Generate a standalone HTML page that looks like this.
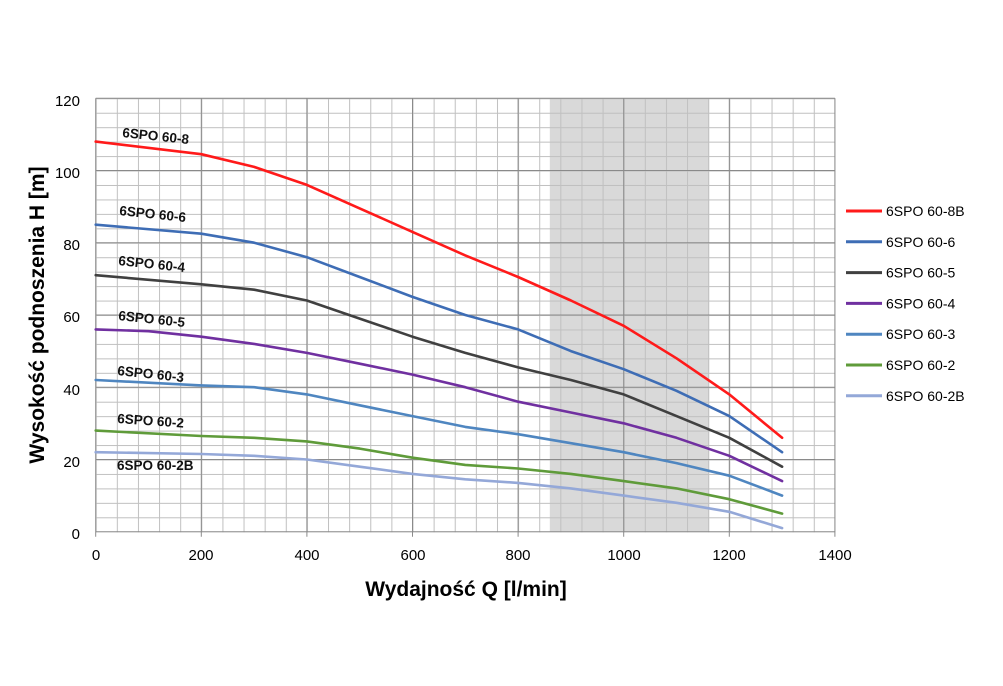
<!DOCTYPE html>
<html><head><meta charset="utf-8"><style>
html,body{margin:0;padding:0;background:#fff;}
svg text{font-family:"Liberation Sans",sans-serif;}
</style></head><body>
<svg width="1003" height="681" xmlns="http://www.w3.org/2000/svg">
<defs>
<pattern id="mx" x="95.7" y="0" width="21.12" height="681" patternUnits="userSpaceOnUse"><line x1="0.5" x2="0.5" y1="0" y2="681" stroke="#c0c0c0" stroke-width="1"/></pattern>
<pattern id="my" x="0" y="98.3" width="1003" height="14.448" patternUnits="userSpaceOnUse"><line x1="0" x2="1003" y1="0.5" y2="0.5" stroke="#c0c0c0" stroke-width="1"/></pattern>
</defs>
<rect width="1003" height="681" fill="#fff"/>
<rect x="549.8" y="98.3" width="159.4" height="433.4" fill="#d9d9d9"/>
<rect x="95.7" y="98.3" width="739.7" height="433.9" fill="url(#mx)"/>
<rect x="95.7" y="98.3" width="739.2" height="433.9" fill="url(#my)"/>
<g stroke="#8a8a8a" stroke-width="1">
<line x1="95.7" x2="95.7" y1="98.3" y2="536.7"/><line x1="201.3" x2="201.3" y1="98.3" y2="536.7"/>
<line x1="306.9" x2="306.9" y1="98.3" y2="536.7"/><line x1="412.5" x2="412.5" y1="98.3" y2="536.7"/>
<line x1="518.1" x2="518.1" y1="98.3" y2="536.7"/><line x1="623.7" x2="623.7" y1="98.3" y2="536.7"/>
<line x1="729.3" x2="729.3" y1="98.3" y2="536.7"/><line x1="834.9" x2="834.9" y1="98.3" y2="536.7"/>
<line x1="95.7" x2="834.9" y1="531.7" y2="531.7"/><line x1="95.7" x2="834.9" y1="459.5" y2="459.5"/>
<line x1="95.7" x2="834.9" y1="387.2" y2="387.2"/><line x1="95.7" x2="834.9" y1="315.0" y2="315.0"/>
<line x1="95.7" x2="834.9" y1="242.7" y2="242.7"/><line x1="95.7" x2="834.9" y1="170.5" y2="170.5"/>
<line x1="95.7" x2="834.9" y1="98.3" y2="98.3"/>
</g>
<g fill="none" stroke-width="2.6" stroke-linejoin="round" stroke-linecap="round">
<polyline stroke="#ff1a1a" points="95.7,141.6 201.3,154.2 254.1,166.9 306.9,184.9 359.7,208.4 412.5,231.9 465.3,255.4 518.1,277.0 570.9,300.5 623.7,325.8 676.5,358.3 729.3,394.4 782.1,437.8"/>
<polyline stroke="#3e6db5" points="95.7,224.7 201.3,233.7 254.1,242.7 306.9,257.2 359.7,277.0 412.5,296.9 465.3,315.0 518.1,329.4 570.9,351.1 623.7,369.2 676.5,390.8 729.3,416.1 782.1,452.2"/>
<polyline stroke="#404040" points="95.7,275.2 201.3,284.3 254.1,289.7 306.9,300.5 359.7,318.6 412.5,336.7 465.3,352.9 518.1,367.4 570.9,380.0 623.7,394.4 676.5,416.1 729.3,437.8 782.1,466.7"/>
<polyline stroke="#7030a0" points="95.7,329.4 148.5,331.2 201.3,336.7 254.1,343.9 306.9,352.9 359.7,363.7 412.5,374.6 465.3,387.2 518.1,401.7 570.9,412.5 623.7,423.3 676.5,437.8 729.3,455.8 782.1,481.1"/>
<polyline stroke="#4f86c0" points="95.7,380.0 201.3,385.4 254.1,387.2 306.9,394.4 359.7,405.3 412.5,416.1 465.3,426.9 518.1,434.2 570.9,443.2 623.7,452.2 676.5,463.1 729.3,475.7 782.1,495.6"/>
<polyline stroke="#5f9b3a" points="95.7,430.6 201.3,436.0 254.1,437.8 306.9,441.4 359.7,448.6 412.5,457.7 465.3,464.9 518.1,468.5 570.9,473.9 623.7,481.1 676.5,488.4 729.3,499.2 782.1,513.6"/>
<polyline stroke="#94a8d8" points="95.7,452.2 201.3,454.0 254.1,455.8 306.9,459.5 359.7,466.7 412.5,473.9 465.3,479.3 518.1,482.9 570.9,488.4 623.7,495.6 676.5,502.8 729.3,511.8 782.1,528.1"/>
</g>
<g font-size="15" fill="#000" text-anchor="end">
<text x="80" y="106">120</text><text x="80" y="178">100</text><text x="80" y="250">80</text>
<text x="80" y="322">60</text><text x="80" y="395">40</text><text x="80" y="467">20</text><text x="80" y="539">0</text>
</g>
<g font-size="15" fill="#000" text-anchor="middle">
<text x="96" y="560">0</text><text x="201" y="560">200</text><text x="307" y="560">400</text>
<text x="413" y="560">600</text><text x="518" y="560">800</text><text x="624" y="560">1000</text>
<text x="729" y="560">1200</text><text x="835" y="560">1400</text>
</g>
<text x="466" y="596" font-size="21" font-weight="bold" text-anchor="middle">Wydajność Q [l/min]</text>
<text transform="translate(44,315) rotate(-90)" font-size="21" font-weight="bold" text-anchor="middle">Wysokość podnoszenia H [m]</text>
<g font-size="13.5" font-weight="bold" fill="#111">
<text transform="translate(122,137) rotate(6)">6SPO 60-8</text>
<text transform="translate(119,215) rotate(6)">6SPO 60-6</text>
<text transform="translate(118,265) rotate(6)">6SPO 60-4</text>
<text transform="translate(118,320) rotate(6)">6SPO 60-5</text>
<text transform="translate(117,375) rotate(6)">6SPO 60-3</text>
<text transform="translate(117,423) rotate(4)">6SPO 60-2</text>
<text x="117" y="470">6SPO 60-2B</text>
</g>
<g font-size="14" fill="#000">
<line x1="846" x2="882" y1="211" y2="211" stroke="#ff1a1a" stroke-width="3"/><text x="886" y="216">6SPO 60-8B</text>
<line x1="846" x2="882" y1="241.8" y2="241.8" stroke="#3e6db5" stroke-width="3"/><text x="886" y="246.8">6SPO 60-6</text>
<line x1="846" x2="882" y1="272.6" y2="272.6" stroke="#404040" stroke-width="3"/><text x="886" y="277.6">6SPO 60-5</text>
<line x1="846" x2="882" y1="303.4" y2="303.4" stroke="#7030a0" stroke-width="3"/><text x="886" y="308.4">6SPO 60-4</text>
<line x1="846" x2="882" y1="334.2" y2="334.2" stroke="#4f86c0" stroke-width="3"/><text x="886" y="339.2">6SPO 60-3</text>
<line x1="846" x2="882" y1="365" y2="365" stroke="#5f9b3a" stroke-width="3"/><text x="886" y="370">6SPO 60-2</text>
<line x1="846" x2="882" y1="395.8" y2="395.8" stroke="#94a8d8" stroke-width="3"/><text x="886" y="400.8">6SPO 60-2B</text>
</g>
</svg>
</body></html>
